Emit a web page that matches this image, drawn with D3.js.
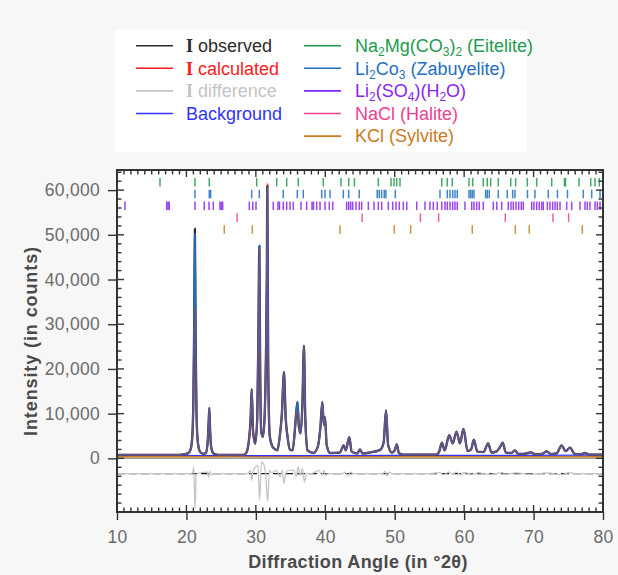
<!DOCTYPE html>
<html><head><meta charset="utf-8">
<script src="https://cdn.jsdelivr.net/npm/d3@7"></script>
<style>
html,body{margin:0;padding:0;background:#f7f7f7;}
svg{display:block;font-family:"Liberation Sans",Arial,Helvetica,sans-serif;}
</style></head><body>
<svg id="c" width="618" height="575"></svg>
<script>
// ---------------- DATA ----------------
const xTickValues = [10, 20, 30, 40, 50, 60, 70, 80];
const yTickValues = [0, 10000, 20000, 30000, 40000, 50000, 60000];

// observed intensity [2theta, counts]
const observed = [
  [10, 800], [15, 780], [19, 760], [20.2, 1100], [20.6, 2000], [20.85, 5000], [21.0, 13000],
  [21.12, 30000], [21.22, 51300], [21.32, 28000], [21.45, 10000], [21.65, 3500], [21.95, 1500],
  [22.4, 1000], [22.8, 1200], [23.05, 3500], [23.2, 8000], [23.3, 11300], [23.42, 6000],
  [23.6, 2200], [23.9, 1100], [24.5, 800], [28.3, 800], [28.7, 1500], [29.0, 4000],
  [29.25, 9000], [29.4, 15500], [29.6, 6000], [29.9, 3300], [30.2, 9000], [30.38, 30000],
  [30.5, 47500], [30.62, 20000], [30.78, 5800], [31.0, 4800], [31.25, 9000], [31.45, 22600],
  [31.58, 40000], [31.65, 61000], [31.78, 20000], [32.0, 5000], [32.4, 2600], [32.8, 2000],
  [33.1, 1800], [33.45, 5000], [33.75, 10000], [34.05, 19300], [34.3, 9000], [34.55, 5000],
  [34.9, 2000], [35.3, 1800], [35.6, 6000], [35.8, 10000], [36.0, 12600], [36.2, 7000],
  [36.45, 5600], [36.7, 12000], [36.93, 25200], [37.12, 9000], [37.45, 1800], [38.3, 1200],
  [38.9, 2500], [39.3, 7000], [39.57, 12600], [39.8, 7500], [39.96, 9200], [40.2, 3000],
  [40.7, 1200], [42.1, 1300], [42.65, 2900], [42.95, 1800], [43.45, 4750], [43.8, 1500],
  [44.6, 1100], [45.0, 2000], [45.35, 1100], [46.4, 1300], [47.9, 1900], [48.4, 3500],
  [48.75, 10700], [49.05, 3000], [49.6, 1300], [50.0, 1800], [50.3, 3100], [50.6, 1200],
  [51.2, 850], [56.0, 850], [56.4, 1500], [56.8, 3500], [57.2, 1800], [57.85, 5200],
  [58.35, 3350], [58.9, 6000], [59.4, 3350], [59.9, 6600], [60.5, 1600], [61.0, 2000],
  [61.4, 4200], [61.9, 1500], [62.8, 1400], [63.45, 3350], [63.95, 1300], [64.6, 1500],
  [65.2, 2600], [65.55, 3500], [66.0, 1300], [66.8, 1200], [67.3, 1800], [67.8, 1000],
  [68.6, 1000], [69.6, 1350], [70.2, 950], [71.2, 1000], [71.9, 1550], [72.5, 950],
  [73.3, 1100], [74.05, 2900], [74.6, 1600], [75.25, 2400], [75.9, 1000], [76.8, 900],
  [77.4, 1200], [78.0, 850], [80, 850]
];
// calculated intensity where it differs visibly from observed
const calculatedOverrides = [[21.12, 22000], [21.22, 33800], [21.32, 20000], [30.5, 47000], [31.65, 61500], [36.0, 10500]];
// Li2CO3 (Zabuyelite) phase curve where it differs visibly from observed
const zabuyeliteOverrides = [[21.22, 50200], [31.65, 60500]];
const backgroundCurve = [[10, 700], [30, 620], [50, 650], [80, 700]];
const kclCurve = [[10, 350], [24, 350], [27, 420], [30, 350], [80, 350]];
// difference (obs - calc), plotted around an offset
const differenceOffset = -3400;
const difference = [
  [10, 0], [20.6, 0], [20.9, 200], [21.05, 1500], [21.25, -7800], [21.4, -400], [21.6, 0],
  [23.0, 300], [23.2, -800], [23.4, 500], [23.6, -300], [23.9, 0], [28.8, 0], [29.2, 700],
  [29.4, -1500], [29.6, 600], [30.0, 1500], [30.3, 1800], [30.55, -5900], [30.8, 2600],
  [31.1, 2200], [31.4, 0], [31.7, -6300], [31.95, 700], [32.3, 200], [33.0, 700],
  [33.5, -700], [33.8, 700], [34.05, -2200], [34.3, 0], [34.6, 700], [35.5, 700],
  [35.8, -700], [36.1, 1500], [36.4, -400], [36.7, 1100], [37.0, -1900], [37.3, 0],
  [38.0, 0], [39.1, 700], [39.5, -400], [39.8, 700], [40.0, -400], [40.4, 0], [42.5, 0],
  [42.8, 300], [43.3, -400], [43.6, 300], [44.0, 0], [48.3, 0], [48.6, 500], [48.9, -500],
  [49.2, 300], [49.6, 0], [55, 0], [56.5, 200], [57, -300], [57.8, 300], [58.3, -200],
  [58.9, 300], [59.5, -300], [60, 200], [61.4, -200], [62, 200], [63.4, -200], [65.5, 200],
  [66, -150], [67.5, 150], [69.5, -150], [72, 150], [74, -250], [75.2, 200], [76, 0], [80, 0]
];

// reflection positions (2theta)
const eiteliteRefl = [16.19, 21.23, 23.29, 30.12, 33.0, 34.44, 36.11, 39.71, 42.26, 43.37, 44.2,
  47.64, 49.46, 49.9, 50.29, 50.76, 56.77, 57.57, 58.29, 60.7, 61.23, 62.76, 63.33, 63.82,
  64.92, 66.71, 67.42, 69.1, 70.45, 72.61, 74.45, 74.6, 76.54, 78.23, 78.85, 79.47];
const zabuyeliteRefl = [21.23, 23.29, 23.49, 29.4, 30.5, 33.95, 35.97, 36.83, 39.48, 39.96,
  40.68, 42.6, 43.37, 44.89, 47.48, 47.77, 48.11, 48.49, 48.73, 50.09, 56.52, 57.57, 57.96,
  58.35, 58.68, 59.01, 60.7, 60.94, 61.17, 61.42, 63.1, 63.33, 63.62, 64.92, 66.21, 66.99,
  67.32, 69.12, 70.2, 72.12, 73.44, 74.88, 77.16, 78.37, 79.57];
const li2so4Refl = [11.15, 17.16, 17.35, 17.53, 21.23, 22.57, 23.25, 23.87, 24.83, 25.02, 25.22,
  29.06, 29.55, 30.02, 32.51, 33.19, 33.4, 33.95, 34.44, 34.92, 35.39, 36.5, 37.32, 38.09,
  38.3, 38.76, 39.24, 39.96, 40.58, 41.07, 43.08, 43.37, 43.66, 43.95, 44.42, 44.9, 45.24,
  46.2, 47.02, 47.64, 48.12, 49.08, 49.71, 50.18, 50.66, 51.24, 51.73, 53.17, 54.36, 55.08,
  55.56, 56.13, 56.77, 57.24, 57.57, 57.96, 58.35, 58.68, 59.01, 60.12, 61.09, 61.42, 61.81,
  62.18, 62.76, 64.2, 64.69, 65.41, 66.36, 66.75, 67.08, 67.47, 67.86, 68.23, 68.52, 69.73,
  70.06, 70.45, 70.82, 71.17, 71.4, 71.98, 72.36, 72.75, 73.09, 73.42, 73.81, 74.77, 75.49,
  76.69, 77.41, 77.74, 78.13, 78.85, 79.18, 79.57];
const naclRefl = [27.3, 31.62, 45.3, 53.7, 56.33, 65.93, 72.8, 75.05];
const kclRefl = [25.45, 29.49, 42.12, 49.94, 52.3, 61.17, 67.37, 69.38, 77.02];

const legendLeft = ["observed", "calculated", "difference", "Background"];
const legendRight = ["Na_2Mg(CO_3)_2 (Eitelite)", "Li_2Co_3 (Zabuyelite)", "Li_2(SO_4)(H_2O)", "NaCl (Halite)", "KCl (Sylvite)"];
const xTitle = "Diffraction Angle (in °2θ)";
const yTitle = "Intensity (in counts)";

// ---------------- STYLE ----------------
const C = {
  obs: "#2b2b2b", calc: "#ff1a1a", diff: "#c4c4c4", bg: "#3333ff",
  eit: "#239a4e", zab: "#1f70c1", li: "#8a25f0", nacl: "#ef3f8f", kcl: "#cc7a1c"
};

const svg = d3.select("#c");
const L = 117, R = 603, T = 170, B = 512;
const x = d3.scaleLinear().domain([10, 80]).range([L, R]);
const y = d3.scaleLinear().domain([-12000, 64500]).range([B, T]);

// legend
svg.append("rect").attr("x", 115).attr("y", 30).attr("width", 412).attr("height", 122).attr("fill", "#fff");
const rowY = i => 45.7 + i * 22.6;
const leftColors = [C.obs, C.calc, C.diff, C.bg];
legendLeft.forEach((lab, i) => {
  svg.append("line").attr("x1", 136).attr("x2", 173).attr("y1", rowY(i)).attr("y2", rowY(i))
    .attr("stroke", leftColors[i]).attr("stroke-width", 1.6);
  const t = svg.append("text").attr("x", 186).attr("y", rowY(i) + 6.3)
    .attr("font-size", 18).attr("fill", leftColors[i]);
  if (i < 3) {
    t.append("tspan").attr("font-family", "'Liberation Serif','Times New Roman',serif").attr("font-weight", "bold").text("I");
    t.append("tspan").text(" " + lab);
  } else t.text(lab);
});
const rightColors = [C.eit, C.zab, C.li, C.nacl, C.kcl];
legendRight.forEach((lab, i) => {
  svg.append("line").attr("x1", 304).attr("x2", 341).attr("y1", rowY(i)).attr("y2", rowY(i))
    .attr("stroke", rightColors[i]).attr("stroke-width", 1.6);
  const t = svg.append("text").attr("x", 355).attr("y", rowY(i) + 6.3)
    .attr("font-size", 18).attr("fill", rightColors[i]);
  const parts = lab.split(/(_\d)/).filter(s => s.length);
  let sub = false;
  parts.forEach(p => {
    if (p[0] === "_") {
      t.append("tspan").attr("font-size", 12).attr("dy", sub ? 0 : 4).text(p.slice(1));
      sub = true;
    } else {
      t.append("tspan").attr("dy", sub ? -4 : 0).text(p);
      sub = false;
    }
  });
});

// plot area
svg.append("rect").attr("x", L).attr("y", T).attr("width", R - L).attr("height", B - T).attr("fill", "#fff");
svg.append("clipPath").attr("id", "clip").append("rect").attr("x", L).attr("y", T).attr("width", R - L).attr("height", B - T);
const g = svg.append("g").attr("clip-path", "url(#clip)");

// zero line & difference reference
g.append("line").attr("x1", L).attr("x2", R).attr("y1", y(0)).attr("y2", y(0)).attr("stroke", "#9a9a9a").attr("stroke-width", 1.5);
g.append("line").attr("x1", L).attr("x2", R).attr("y1", y(differenceOffset)).attr("y2", y(differenceOffset))
  .attr("stroke", "#1a1a1a").attr("stroke-width", 1.3).attr("stroke-dasharray", "8,4");

const line = d3.line().x(d => x(d[0])).y(d => y(d[1])).curve(d3.curveMonotoneX);
g.append("path").datum(difference.map(d => [d[0], d[1] + differenceOffset])).attr("d", line)
  .attr("fill", "none").attr("stroke", C.diff).attr("stroke-width", 1.3);

// reflection markers
const rows = [[eiteliteRefl, C.eit], [zabuyeliteRefl, C.zab], [li2so4Refl, C.li], [naclRefl, C.nacl], [kclRefl, C.kcl]];
rows.forEach(([arr, col], i) => {
  const y0 = 178 + i * 11.8;
  g.selectAll(null).data(arr).enter().append("line")
    .attr("x1", d => x(d)).attr("x2", d => x(d)).attr("y1", y0).attr("y2", y0 + 8.5)
    .attr("stroke", col).attr("stroke-width", 1.5).attr("opacity", 0.85);
});

const withOverrides = (base, ov) => base.map(([t, v]) => { const o = ov.find(e => e[0] === t); return [t, o ? o[1] : v]; });
const calculated = withOverrides(observed, calculatedOverrides);
const zabuyelite = withOverrides(observed, zabuyeliteOverrides);

g.append("path").datum(kclCurve).attr("d", line).attr("fill", "none").attr("stroke", C.kcl).attr("stroke-width", 1.6);
g.append("path").datum(backgroundCurve).attr("d", line).attr("fill", "none").attr("stroke", C.bg).attr("stroke-width", 1.2);
g.append("path").datum(observed).attr("d", line).attr("fill", "none").attr("stroke", C.obs).attr("stroke-width", 2.3);
g.append("path").datum(zabuyelite).attr("d", line).attr("fill", "none").attr("stroke", C.zab).attr("stroke-width", 1.8);
g.append("path").datum(calculated).attr("d", line).attr("fill", "none").attr("stroke", C.calc).attr("stroke-width", 2.2).attr("opacity", 0.28);

// frame
svg.append("rect").attr("x", L).attr("y", T).attr("width", R - L).attr("height", B - T)
  .attr("fill", "none").attr("stroke", "#333").attr("stroke-width", 2);

// ticks
const tk = svg.append("g").attr("stroke", "#333").attr("stroke-width", 1.4);
const xMinor = d3.range(10, 81, 1), yMinor = d3.range(-12000, 64001, 2000);
xMinor.forEach(v => {
  const maj = xTickValues.includes(v);
  tk.append("line").attr("x1", x(v)).attr("x2", x(v)).attr("y1", B).attr("y2", B - (maj ? 7 : 4.5));
  tk.append("line").attr("x1", x(v)).attr("x2", x(v)).attr("y1", T).attr("y2", T + (maj ? 7 : 4.5));
});
yMinor.forEach(v => {
  const maj = yTickValues.includes(v);
  tk.append("line").attr("x1", L).attr("x2", L + (maj ? 7 : 4.5)).attr("y1", y(v)).attr("y2", y(v));
  tk.append("line").attr("x1", R).attr("x2", R - (maj ? 7 : 4.5)).attr("y1", y(v)).attr("y2", y(v));
});

// axes (outer ticks + labels)
const ax = d3.axisBottom(x).tickValues(xTickValues).tickSize(8).tickPadding(11).tickFormat(d3.format("d"));
const axG = svg.append("g").attr("transform", `translate(0,${B})`).call(ax);
const ay = d3.axisLeft(y).tickValues(yTickValues).tickSize(9).tickPadding(8).tickFormat(d3.format(","));
const ayG = svg.append("g").attr("transform", `translate(${L},0)`).call(ay);
[axG, ayG].forEach(a => {
  a.select(".domain").remove();
  a.selectAll(".tick line").attr("stroke", "#333").attr("stroke-width", 1.4);
  a.selectAll(".tick text").attr("fill", "#6b6b6b").attr("font-size", 17.5)
    .attr("font-family", "'Liberation Sans',Arial,sans-serif").style("letter-spacing", "0.3px");
});

svg.append("text").attr("x", 358).attr("y", 568).attr("text-anchor", "middle")
  .attr("font-size", 18).attr("font-weight", "bold").attr("fill", "#4a4a4a")
  .style("letter-spacing", "0.4px").text(xTitle);
svg.append("text").attr("transform", `translate(37,${(T + B) / 2}) rotate(-90)`).attr("text-anchor", "middle")
  .attr("font-size", 18).attr("font-weight", "bold").attr("fill", "#4a4a4a")
  .style("letter-spacing", "0.9px").text(yTitle);
</script>
</body></html>
